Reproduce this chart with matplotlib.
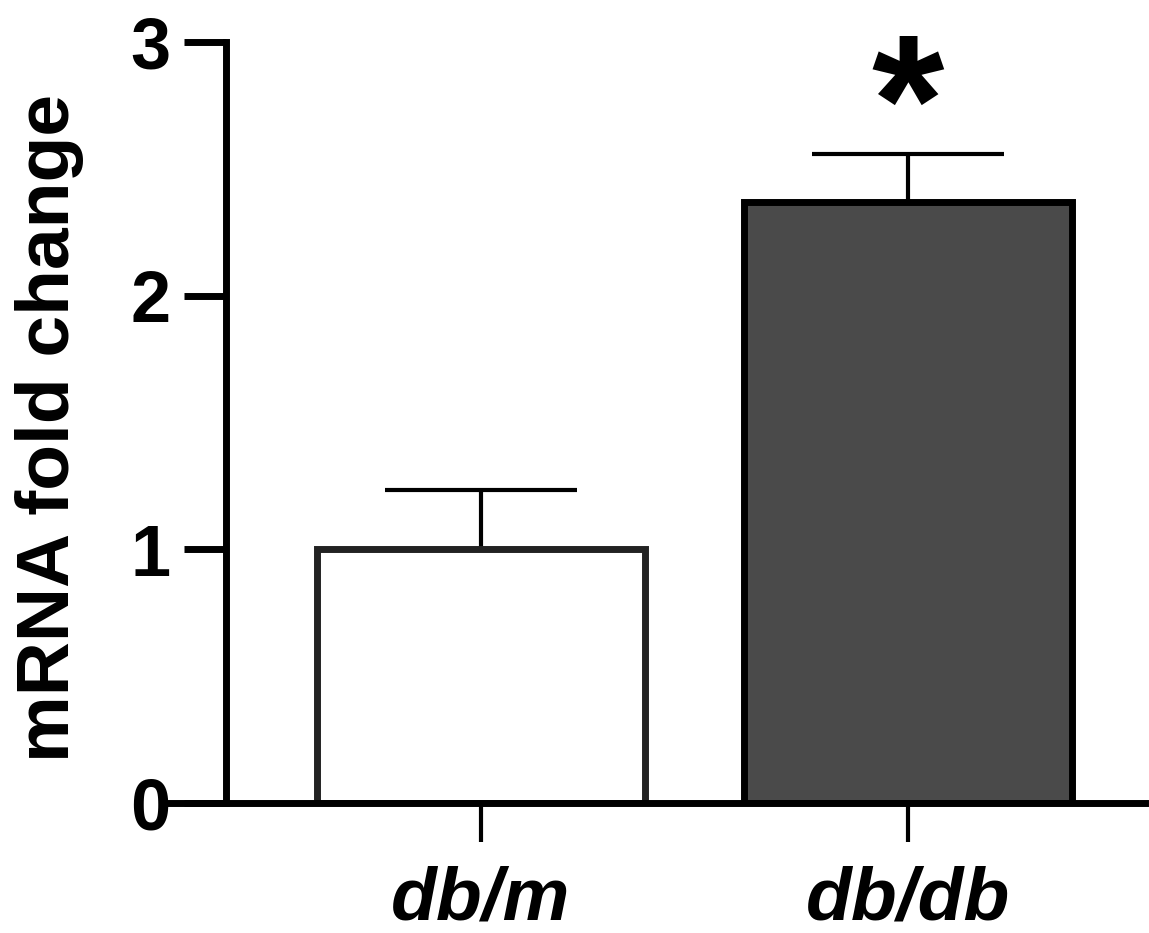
import matplotlib.pyplot as plt

# data
groups = ["db/m", "db/db"]
means = [1.0, 2.37]
errors = [0.235, 0.19]
fills = ["white", "#4a4a4a"]
edges = ["#222222", "black"]

plt.rcParams['font.family'] = ['Liberation Sans', 'DejaVu Sans']

fig = plt.figure(figsize=(11.49, 9.33), dpi=100)
ax = fig.add_axes([0.148, 0.1393, 0.8485, 0.8157])

x = list(range(len(groups)))
ax.bar(x, means, width=0.77, color=fills, edgecolor=edges, linewidth=5, zorder=2)
ax.errorbar(x, means, yerr=[[0, 0], errors], fmt="none", ecolor="black",
            elinewidth=3, capsize=69, capthick=3, zorder=1)

# significance star
ax.text(x[1], 2.71, "*", ha="center", va="center", fontsize=134,
        fontweight="bold", clip_on=False)

ax.set_xlim(-0.728, 1.555)
ax.set_ylim(0, 3)
ax.spines["left"].set_position(("data", -0.597))
ax.spines["left"].set_linewidth(5)
ax.spines["bottom"].set_linewidth(5)
ax.spines["top"].set_visible(False)
ax.spines["right"].set_visible(False)

ax.set_yticks([0, 1, 2, 3])
ax.set_yticklabels(["0", "1", "2", "3"], fontsize=52, fontweight="bold")
ax.tick_params(axis="y", length=30, width=5, pad=10)
ax.set_xticks(x)
ax.set_xticklabels(groups, fontsize=54, fontweight="bold", style="italic")
ax.tick_params(axis="x", length=28, width=3, pad=17)

ax.set_ylabel("mRNA fold change", fontsize=54, fontweight="bold")
ax.yaxis.set_label_coords(-0.088, 0.4934)

fig.savefig("out.png", dpi=100)
plt.close()
